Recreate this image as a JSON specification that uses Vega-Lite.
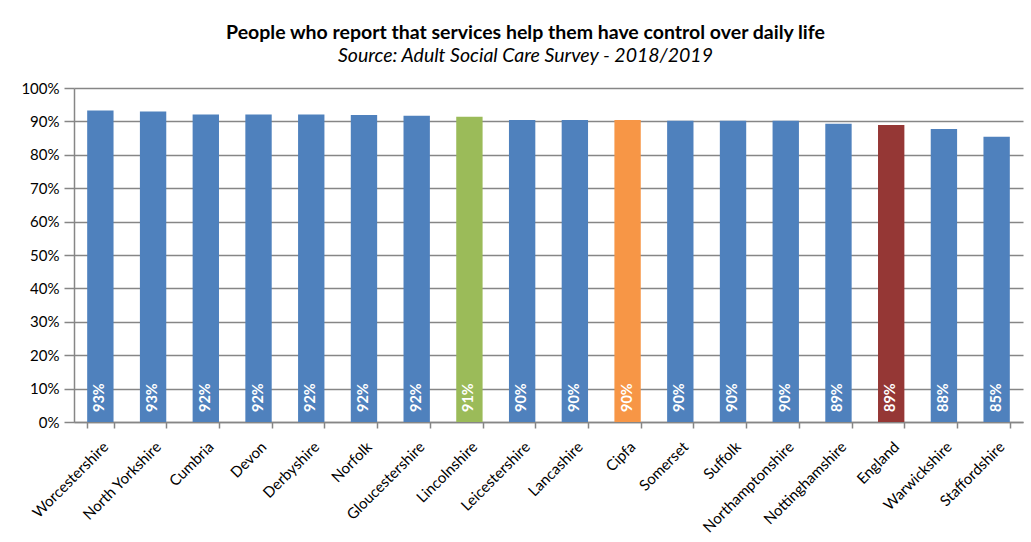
{
  "$schema": "https://vega.github.io/schema/vega-lite/v6.json",
  "autosize": "none",
  "width": 949,
  "height": 334,
  "padding": {"left": 74, "top": 88, "right": 8, "bottom": 120},
  "background": "white",
  "title": {
    "text": "People who report that services help them have control over daily life",
    "subtitle": "Source: Adult Social Care Survey - 2018/2019",
    "anchor": "middle",
    "frame": "group",
    "dx": -23,
    "offset": 15,
    "font": "Lato",
    "fontSize": 19.5,
    "fontWeight": "bold",
    "color": "#000000",
    "subtitleFont": "Lato",
    "subtitleFontSize": 19.5,
    "subtitleFontStyle": "italic",
    "subtitleColor": "#000000",
    "subtitlePadding": 3
  },
  "data": {
    "values": [
      {"area": "Worcestershire", "share": 0.933, "group": "Area"},
      {"area": "North Yorkshire", "share": 0.930, "group": "Area"},
      {"area": "Cumbria", "share": 0.921, "group": "Area"},
      {"area": "Devon", "share": 0.921, "group": "Area"},
      {"area": "Derbyshire", "share": 0.921, "group": "Area"},
      {"area": "Norfolk", "share": 0.919, "group": "Area"},
      {"area": "Gloucestershire", "share": 0.917, "group": "Area"},
      {"area": "Lincolnshire", "share": 0.914, "group": "Lincolnshire"},
      {"area": "Leicestershire", "share": 0.904, "group": "Area"},
      {"area": "Lancashire", "share": 0.904, "group": "Area"},
      {"area": "Cipfa", "share": 0.904, "group": "Cipfa"},
      {"area": "Somerset", "share": 0.902, "group": "Area"},
      {"area": "Suffolk", "share": 0.902, "group": "Area"},
      {"area": "Northamptonshire", "share": 0.902, "group": "Area"},
      {"area": "Nottinghamshire", "share": 0.893, "group": "Area"},
      {"area": "England", "share": 0.889, "group": "England"},
      {"area": "Warwickshire", "share": 0.877, "group": "Area"},
      {"area": "Staffordshire", "share": 0.854, "group": "Area"}
    ]
  },
  "encoding": {
    "x": {
      "field": "area",
      "type": "nominal",
      "sort": null,
      "title": null,
      "scale": {"paddingInner": 0.5, "paddingOuter": 0.25},
      "axis": {
        "labelAngle": -45,
        "labelAlign": "right",
        "labelBaseline": "top",
        "labelFont": "Lato",
        "labelFontSize": 15,
        "labelColor": "#000000",
        "labelPadding": 11,
        "tickBand": "extent",
        "tickSize": 6,
        "tickColor": "#868686",
        "tickWidth": 1.5,
        "domainColor": "#868686",
        "domainWidth": 1.5,
        "grid": false
      }
    }
  },
  "layer": [
    {
      "mark": {"type": "bar"},
      "encoding": {
        "y": {
          "field": "share",
          "type": "quantitative",
          "title": null,
          "scale": {"domain": [0, 1], "nice": false},
          "axis": {
            "format": ".0%",
            "values": [0, 0.1, 0.2, 0.3, 0.4, 0.5, 0.6, 0.7, 0.8, 0.9, 1],
            "labelOverlap": false,
            "labelFont": "Lato",
            "labelFontSize": 15,
            "labelColor": "#000000",
            "labelPadding": 5,
            "tickSize": 10,
            "tickColor": "#868686",
            "tickWidth": 1.5,
            "domainColor": "#868686",
            "domainWidth": 1.5,
            "grid": true,
            "gridColor": "#868686",
            "gridWidth": 1.5
          }
        },
        "color": {
          "field": "group",
          "type": "nominal",
          "legend": null,
          "scale": {
            "domain": ["Area", "Lincolnshire", "Cipfa", "England"],
            "range": ["#4F81BD", "#9BBB59", "#F79646", "#953735"]
          }
        }
      }
    },
    {
      "mark": {
        "type": "text",
        "angle": 270,
        "align": "left",
        "baseline": "middle",
        "dx": 10,
        "font": "Lato",
        "fontSize": 14.5,
        "fontWeight": "bold",
        "color": "white"
      },
      "encoding": {
        "y": {
          "datum": 0,
          "type": "quantitative",
          "axis": {
            "format": ".0%",
            "values": [0, 0.1, 0.2, 0.3, 0.4, 0.5, 0.6, 0.7, 0.8, 0.9, 1],
            "labelOverlap": false,
            "labelFont": "Lato",
            "labelFontSize": 15,
            "labelColor": "#000000",
            "labelPadding": 5,
            "tickSize": 10,
            "tickColor": "#868686",
            "tickWidth": 1.5,
            "domainColor": "#868686",
            "domainWidth": 1.5,
            "grid": true,
            "gridColor": "#868686",
            "gridWidth": 1.5
          }
        },
        "text": {"field": "share", "type": "quantitative", "format": ".0%"}
      }
    }
  ],
  "config": {
    "view": {"stroke": null}
  }
}
